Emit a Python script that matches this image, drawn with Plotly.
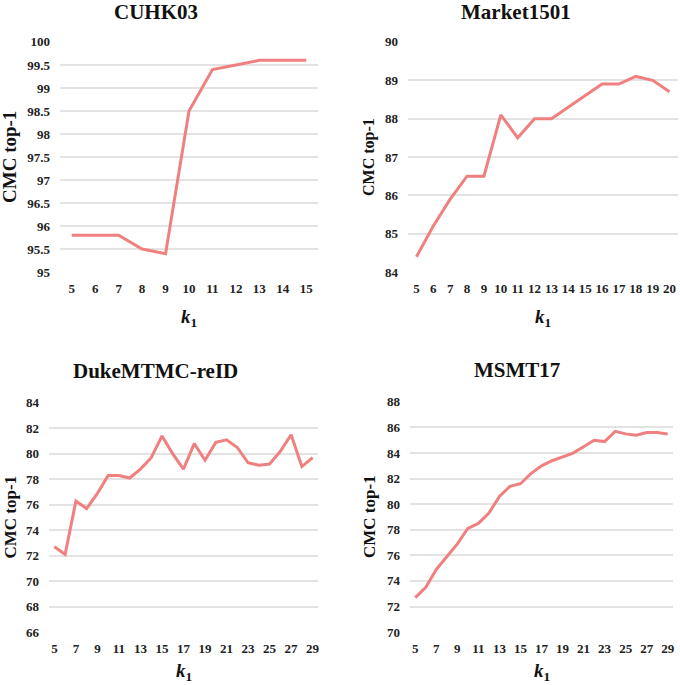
import plotly.graph_objects as go

# k1 values and CMC top-1 for each dataset
k_cuhk = list(range(5, 16))
cmc_cuhk = [95.8, 95.8, 95.8, 95.5, 95.4, 98.5, 99.4, 99.5, 99.6, 99.6, 99.6]

k_market = list(range(5, 21))
cmc_market = [84.4, 85.2, 85.9, 86.5, 86.5, 88.1, 87.5, 88.0, 88.0, 88.3, 88.6,
              88.9, 88.9, 89.1, 89.0, 88.7]

k_duke = list(range(5, 30))
cmc_duke = [72.7, 72.1, 76.3, 75.7, 76.9, 78.3, 78.3, 78.1, 78.8, 79.7, 81.4,
            80.0, 78.8, 80.8, 79.5, 80.9, 81.1, 80.5, 79.3, 79.1, 79.2, 80.2,
            81.5, 79.0, 79.7]

k_msmt = list(range(5, 30))
cmc_msmt = [72.7, 73.5, 74.9, 75.9, 76.9, 78.1, 78.5, 79.3, 80.6, 81.4, 81.6,
            82.4, 83.0, 83.4, 83.7, 84.0, 84.5, 85.0, 84.9, 85.7, 85.5, 85.4,
            85.6, 85.6, 85.5]

titles = ['CUHK03', 'Market1501', 'DukeMTMC-reID', 'MSMT17']

W, H = 680, 685
FONT = 'Liberation Serif'
LINE = 'rgb(240,128,128)'
GRID = '#e3e3e3'

def px_x(p):
    return p / W

def px_y(p):
    return 1 - p / H

# panel pixel boxes: left, right, top, bottom
boxes = [(60, 318, 41, 273), (408, 678, 41, 273),
         (49, 318, 402, 633), (410, 673, 401, 633)]
series = [(k_cuhk, cmc_cuhk), (k_market, cmc_market),
          (k_duke, cmc_duke), (k_msmt, cmc_msmt)]
yranges = [(95, 100, 0.5), (84, 90, 1), (66, 84, 2), (70, 88, 2)]
xdticks = [1, 1, 2, 2]
title_x = [156, 516, 155, 517]
title_y = [12, 12, 371, 370]
ytitle_x = [10, 369, 10, 369]
ytitle_size = [19, 16, 17, 17]
xtitle_y = [318, 318, 672, 672]

fig = go.Figure()

for i, ((xs, ys), (l, r, t, b)) in enumerate(zip(series, boxes)):
    n = '' if i == 0 else str(i + 1)
    fig.add_trace(go.Scatter(x=xs, y=ys, mode='lines',
                             line=dict(color=LINE, width=3),
                             xaxis='x' + n, yaxis='y' + n, showlegend=False))
    y0, y1, dy = yranges[i]
    tf = dict(family=FONT, size=13, color='#222', weight='bold')
    fig.update_layout(**{
        'xaxis' + n: dict(domain=[px_x(l), px_x(r)], anchor='y' + n,
                          range=[xs[0] - 0.5, xs[-1] + 0.5],
                          tickmode='linear', tick0=5, dtick=xdticks[i],
                          showgrid=False, zeroline=False, showline=False,
                          automargin=False, ticklabelstandoff=6, tickfont=tf),
        'yaxis' + n: dict(domain=[px_y(b), px_y(t)], anchor='x' + n,
                          range=[y0 - (y1 - y0) * 0.004, y1 + (y1 - y0) * 0.004],
                          tickmode='linear', tick0=y0, dtick=dy,
                          showgrid=True, gridcolor=GRID, gridwidth=1.5,
                          zeroline=False, showline=False,
                          automargin=False, ticklabelstandoff=9, tickfont=tf),
    })
    fig.add_annotation(text='<b>%s</b>' % titles[i], x=px_x(title_x[i]),
                       y=px_y(title_y[i]), xref='paper', yref='paper',
                       xanchor='center', yanchor='middle',
                       showarrow=False, font=dict(family=FONT, size=21, color='#111'))
    fig.add_annotation(text='<b>CMC top-1</b>', x=px_x(ytitle_x[i]),
                       y=(px_y(t) + px_y(b)) / 2, xref='paper', yref='paper',
                       xanchor='center', yanchor='middle',
                       textangle=-90, showarrow=False,
                       font=dict(family=FONT, size=ytitle_size[i], color='#111'))
    fig.add_annotation(text='<b><i>k</i><sub>1</sub></b>', x=(px_x(l) + px_x(r)) / 2,
                       y=px_y(xtitle_y[i]), xref='paper', yref='paper',
                       xanchor='center', yanchor='middle',
                       showarrow=False, font=dict(family=FONT, size=19, color='#111'))

fig.update_layout(width=W, height=H, margin=dict(l=0, r=0, t=0, b=0, autoexpand=False),
                  plot_bgcolor='white', paper_bgcolor='white')

# drop the browser's default body margin so the figure sits at the page corner
fig.write_html('out.html', config={'displayModeBar': False},
               post_script="document.body.style.margin='0';")
